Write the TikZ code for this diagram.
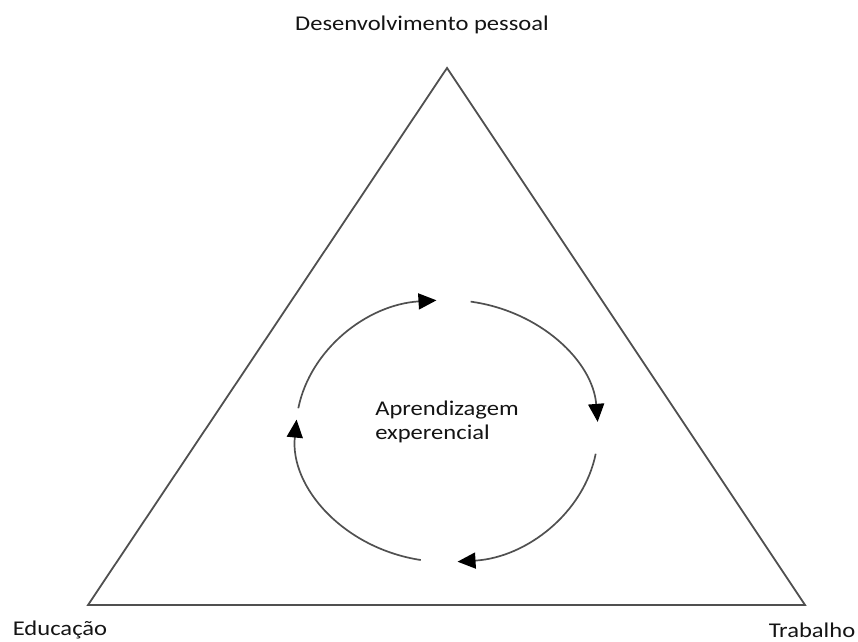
\documentclass[tikz,border=0pt]{standalone}
\usepackage{fontspec}
\setmainfont{Carlito}
\usetikzlibrary{arrows.meta}
\definecolor{linegray}{HTML}{505050}
\definecolor{txt}{HTML}{141414}
\newcommand{\wtext}[1]{\scalebox{1.17}[1]{#1}}
\tikzset{
  lbl/.style={inner sep=0pt, text=txt, font=\fontsize{21}{26}\selectfont},
  tri/.style={draw=linegray, line width=1.8pt, line join=miter},
  cyc/.style={draw=linegray, line width=1.7pt, -{Triangle[length=18pt,width=16pt,color=black]}},
}
\begin{document}
\begin{tikzpicture}[x=1pt,y=1pt]
\useasboundingbox (0,0) rectangle (858,641);
\coordinate (apex) at (447,573);
\coordinate (bl) at (88,36);
\coordinate (br) at (805,36);
\coordinate (c) at (447,210);
\draw[tri] (apex) -- (bl) -- (br) -- cycle;
\node[lbl] (dp) at (422,616) {\wtext{Desenvolvimento pessoal}};
\node[lbl] (ed) at (60,11) {\wtext{Educação}};
\node[lbl] (tr) at (812,11) {\wtext{Trabalho}};
\node[lbl, align=left] (ae) at (447,219) {\wtext{\begin{tabular}{@{}l@{}}Aprendizagem\\[-2pt]experencial\end{tabular}}};
\draw[cyc] (c) ++(170:151 and 131) arc[start angle=170, end angle=94, x radius=151, y radius=131];
\draw[cyc] (c) ++(81:151 and 131) arc[start angle=81, end angle=4, x radius=151, y radius=131];
\draw[cyc] (c) ++(-10:151 and 131) arc[start angle=-10, end angle=-86, x radius=151, y radius=131];
\draw[cyc] (c) ++(-100:151 and 131) arc[start angle=-100, end angle=-185, x radius=151, y radius=131];
\end{tikzpicture}
\end{document}
